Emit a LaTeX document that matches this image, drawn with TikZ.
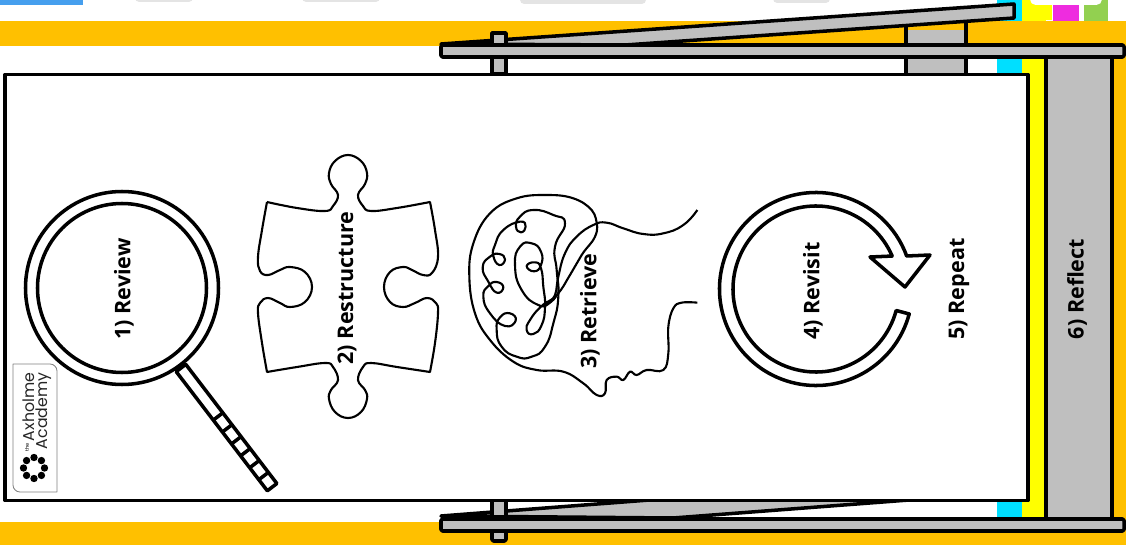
\documentclass[tikz,border=0pt]{standalone}
\usepackage{fontspec}
\setmainfont{Open Sans}
\newfontfamily\logofont{Poppins}
\usepackage{xcolor}
\usetikzlibrary{calc}
\definecolor{band}{HTML}{FFC000}
\definecolor{steel}{HTML}{BFBFBF}
\definecolor{cyanstrip}{HTML}{00DFFF}
\definecolor{yellowstrip}{HTML}{FFFF00}
\definecolor{magentatab}{HTML}{EE2CDF}
\definecolor{greentab}{HTML}{92D050}
\definecolor{bluetab}{HTML}{469FEE}
\definecolor{greytab}{HTML}{E4E4E4}
\begin{document}
\begin{tikzpicture}[x=0.025cm,y=-0.025cm,line join=round,
  steelblk/.style={draw=black,fill=steel,line width=2.5pt},
  steeledge/.style={draw=black,line width=2.5pt},
  ring/.style={draw=black,line width=2.5pt},
  sketch/.style={draw=black,line width=1.5pt},
  steplabel/.style={rotate=90,font=\fontsize{15.3pt}{17pt}\selectfont\bfseries,inner sep=0pt},
  logolabel/.style={rotate=90,font=\logofont\fontsize{11.2pt}{14pt}\selectfont,text=black!85,inner sep=0pt}]
\useasboundingbox (0,0) rectangle (1126,545);
\fill[white] (0,0) rectangle (1126,545);
% ---------- page behind: tabs, bands, strips ----------
\fill[bluetab] (0,0) rectangle (83,5);
\fill[greytab,rounded corners=3pt] (135,-6) rectangle (193,2);
\fill[greytab,rounded corners=3pt] (302,-6) rectangle (380,2);
\fill[greytab,rounded corners=3pt] (520,-6) rectangle (646,4);
\fill[greytab,rounded corners=3pt] (773,-6) rectangle (830,3);
\fill[cyanstrip] (997,0) rectangle (1022,518);
\fill[yellowstrip] (1022,0) rectangle (1052,20);
\fill[yellowstrip] (1022,20) rectangle (1046,518);
\fill[magentatab] (1053,0) rectangle (1079,21);
\fill[greentab] (1084,0) rectangle (1108,21);
\fill[white,rounded corners=4pt] (1030,-8) rectangle (1102,5);
\fill[band] (0,21) rectangle (1126,46);
\fill[band] (966,46) rectangle (1126,58);
\fill[band] (1112,46) rectangle (1126,545);
\fill[band] (0,522) rectangle (1126,545);
% ---------- right column ----------
\fill[steel] (1046,57) rectangle (1112,518);
\draw[steeledge] (1046,57) -- (1046,518);
\draw[steeledge] (1112,57) -- (1112,518);
% ---------- top clamp ----------
\fill[steel] (906,30) rectangle (966,74);
\draw[steeledge] (906,26) -- (906,74);
\draw[steeledge] (966,22) -- (966,74);
\draw[steelblk] (441,44) -- (1014,4) -- (1014,18) -- (625,45) -- cycle;
\draw[steelblk] (492,33) rectangle (506,74);
\draw[steelblk,rounded corners=1pt] (441,45) rectangle (1124,57);
% ---------- bottom clamp ----------
\draw[steelblk] (441,516) -- (1014,472) -- (1014,492) -- (673,518) -- cycle;
\draw[steelblk,rounded corners=1pt] (492,499) rectangle (506,541);
\draw[steelblk,rounded corners=1pt] (441,519) rectangle (1124,531);
% ---------- sheet ----------
\draw[fill=white,line width=2.6pt] (5,74.5) rectangle (1028,500.5);
\draw[steelblk,fill=steel] (492,500.5) rectangle (506,517);
% ---------- logo ----------
\draw[gray,line width=.6pt] (13,364) [rounded corners=5pt] -- (57,364) [sharp corners] -- (57,492) [rounded corners=5pt] -- (13,492) [sharp corners] -- cycle;
\node[logolabel] (axholme) at (28.5,407) {Axholme};
\node[logolabel] (academy) at (43.5,411) {Academy};
\node[rotate=90,font=\logofont\fontsize{3.6pt}{4pt}\selectfont,inner sep=0pt] (logothe) at (27,447) {the};
\coordinate (logoc) at (34,468);
\foreach \a in {0,45,...,315}
  \fill[black] (logoc) ++(\a:10.5) circle[radius=3.7];
% ---------- 1) magnifier ----------
\draw[ring] (122,288) circle[radius=96.5];
\draw[ring] (122,288) circle[radius=84.5];
\begin{scope}[shift={(181,368)},rotate=-52.6]
\draw[ring,fill=white] (0,-6) rectangle (150,6);
\foreach \d in {61,76,...,150}
  \draw[ring] (\d,-6) -- (\d,6);
\end{scope}
\node[steplabel] (review) at (124,289) {1) Review};
% ---------- 2) puzzle piece ----------
\draw[sketch] plot[smooth,tension=.7] coordinates {(267,202) (297,208) (325,211) (333,206) (338,195) (331,184) (329,173) (335,161) (348,155) (361,161) (367,173) (365,184) (358,195) (363,206) (371,211) (397,208) (430,202)}
  -- plot[smooth,tension=.7] coordinates {(430,202) (435,230) (438,257) (432,273) (423,275) (412,270) (403,267) (390,272) (384,287) (390,302) (403,307) (415,303) (427,298) (436,303) (438,313) (435,343) (430,372)}
  -- plot[smooth,tension=.7] coordinates {(430,372) (397,367) (371,363) (363,367) (358,380) (365,390) (367,399) (361,412) (348,418) (335,412) (329,399) (331,390) (338,380) (333,367) (325,363) (297,367) (267,372)}
  -- plot[smooth,tension=.7] coordinates {(267,372) (262,343) (258,313) (260,303) (268,298) (280,303) (290,307) (305,302) (312,287) (305,272) (290,267) (280,270) (268,275) (260,271) (258,257) (262,230) (267,202)};
\node[steplabel] (restructure) at (347,288) {2) Restructure};
% ---------- 3) head ----------
\begin{scope}[shift={(460,180)},x=0.00833cm,y=-0.00833cm]
% neck, top of head, down the inside
\draw[sketch] plot[smooth,tension=.8] coordinates {(712,90) (670,135) (610,160) (550,162) (490,145) (440,128) (400,135) (350,170) (315,220) (295,290) (285,345) (265,368)};
% outline, brow to chin
\draw[sketch] plot[smooth,tension=.7] coordinates {(410,130) (395,90) (340,55) (260,45) (170,55) (90,100) (40,190) (28,290) (45,400) (90,480) (160,545) (230,570) (310,575) (370,610) (410,645) (435,640) (440,600) (470,590) (490,600) (510,575) (530,585) (560,570) (610,570) (625,520) (625,440) (640,385) (665,368) (712,368)};
% inner loop
\draw[sketch] plot[smooth,tension=.9] coordinates {(410,130) (405,170) (365,225) (330,285) (290,345) (245,378) (210,420) (200,450) (220,462) (245,435) (255,380) (250,320) (243,265) (225,247) (200,258) (222,274) (243,255) (243,215) (215,190) (180,200) (165,255) (185,330) (235,375) (270,368) (297,335)};
% folds
\draw[sketch] plot[smooth cycle,tension=.9] coordinates {(315,130) (280,105) (220,90) (180,110) (168,140) (183,157) (197,140) (180,125) (130,150) (105,195) (100,228) (118,255) (135,238) (118,222) (90,230) (68,262) (85,305) (110,338) (130,322) (110,306) (85,318) (70,350) (90,400) (135,438) (167,422) (150,400) (120,412) (110,450) (125,500) (170,530) (215,530) (255,500) (280,430) (295,350) (290,270) (285,200)};
\end{scope}
\node[steplabel] (retrieve) at (590,311) {3) Retrieve};
% ---------- 4) circular arrow ----------
\coordinate (revisitc) at (816,289);
\draw[ring,fill=white] ([shift={(15:96.5)}]revisitc) arc[start angle=15,end angle=340,radius=96.5]
  -- (930,255) -- (905,287) -- (870,257) -- ([shift={(336.6:83)}]revisitc)
  arc[start angle=336.6,end angle=15,radius=83] -- cycle;
\node[steplabel] (revisit) at (813,291) {4) Revisit};
% ---------- 5), 6) ----------
\node[steplabel] (repeat) at (959,289) {5) Repeat};
\node[steplabel] (reflect) at (1077,289) {6) Reflect};
\end{tikzpicture}
\end{document}
